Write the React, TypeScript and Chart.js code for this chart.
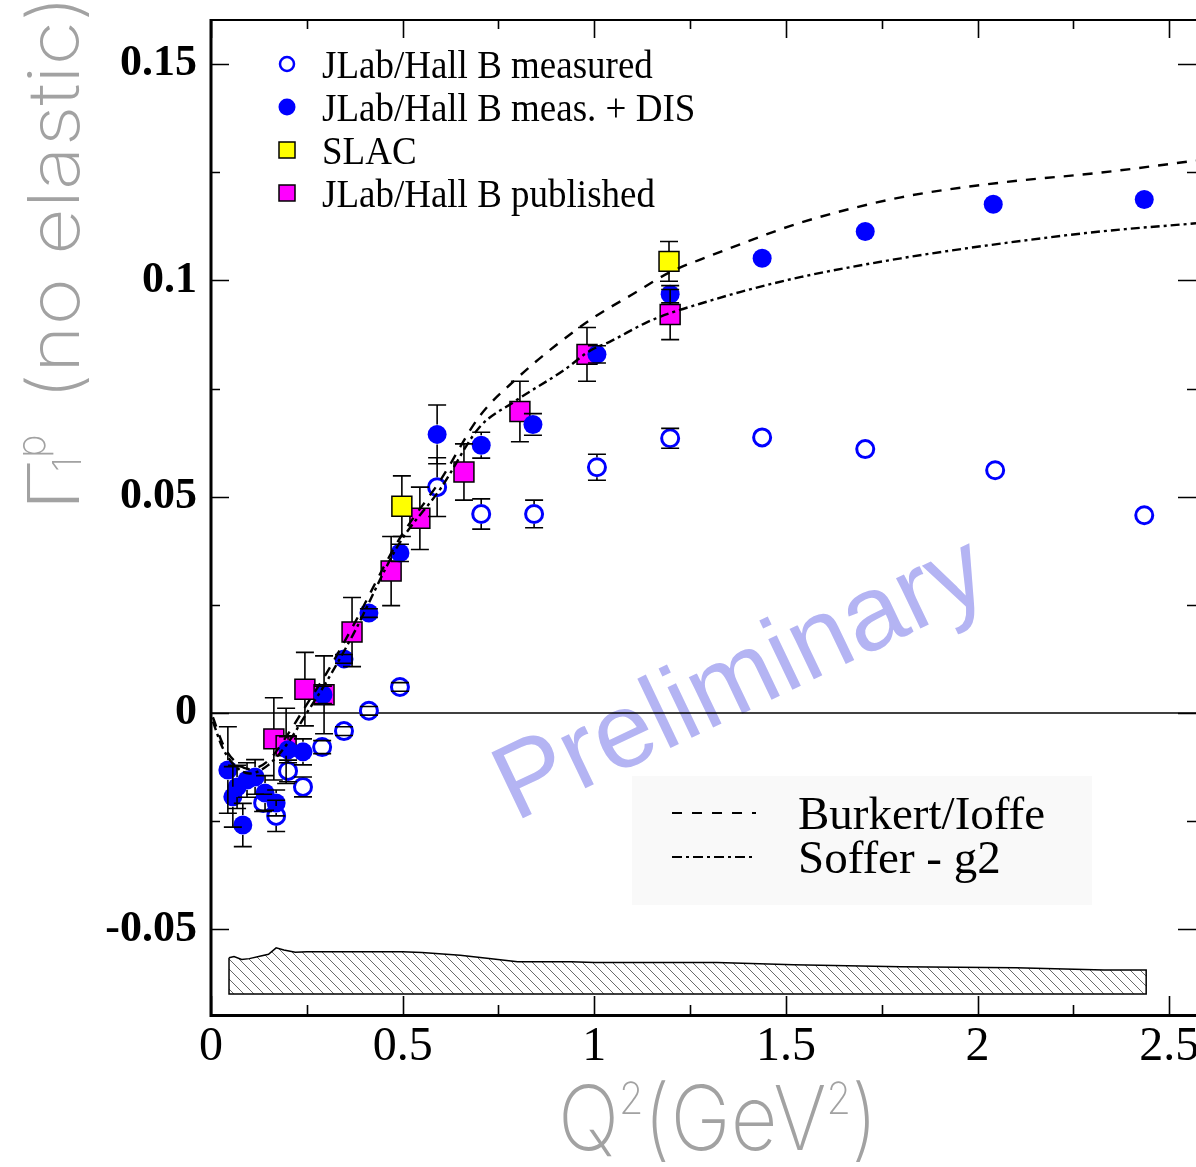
import React, { useEffect, useRef } from "react";
import { Chart, registerables } from "chart.js";

Chart.register(...registerables);

// ---------------- data ----------------
const measuredX = [0.136, 0.170, 0.201, 0.240, 0.290, 0.347, 0.412, 0.493, 0.590, 0.705, 0.843, 1.007, 1.198, 1.438, 1.707, 2.046, 2.435];
const measuredY = [-0.0208, -0.0238, -0.0134, -0.0171, -0.0079, -0.0042, 0.0005, 0.0060, 0.0522, 0.0460, 0.0460, 0.0568, 0.0635, 0.0637, 0.0610, 0.0561, 0.0457];
const measuredErr = [0.002, 0.0036, 0.0025, 0.0023, 0.0015, 0.001, 0.001, 0.001, 0.0068, 0.0035, 0.0032, 0.003, 0.0023, 0, 0, 0, 0];

const disX = [0.044, 0.057, 0.068, 0.083, 0.094, 0.115, 0.141, 0.170, 0.201, 0.240, 0.292, 0.347, 0.412, 0.493, 0.590, 0.705, 0.840, 1.007, 1.198, 1.438, 1.707, 2.041, 2.435];
const disY = [-0.0132, -0.0194, -0.0171, -0.0259, -0.0155, -0.0148, -0.0185, -0.0208, -0.0085, -0.0090, 0.0042, 0.0125, 0.0231, 0.0370, 0.0644, 0.0619, 0.0667, 0.0829, 0.0968, 0.1051, 0.1113, 0.1176, 0.1187];
const disErr = [0.010, 0.007, 0.005, 0.005, 0.004, 0.004, 0.004, 0.003, 0.003, 0.003, 0.002, 0.001, 0.001, 0.002, 0.0068, 0.003, 0.0025, 0.002, 0.002, 0, 0, 0, 0];

const slacX = [0.498, 1.195];
const slacY = [0.0478, 0.1044];
const slacErr = [0.007, 0.0046];

const publishedX = [0.164, 0.196, 0.245, 0.295, 0.368, 0.470, 0.545, 0.660, 0.806, 0.981, 1.198];
const publishedY = [-0.0060, -0.0076, 0.0055, 0.0042, 0.0187, 0.0328, 0.0450, 0.0557, 0.0697, 0.0829, 0.0921];
const publishedErr = [0.0095, 0.0087, 0.0085, 0.009, 0.008, 0.008, 0.0072, 0.0065, 0.007, 0.0062, 0.0058];

const burkertX = [0.005, 0.03, 0.06, 0.1, 0.15, 0.2, 0.25, 0.3, 0.37, 0.49, 0.6, 0.7, 0.8, 0.9, 1.0, 1.1, 1.2, 1.3, 1.4, 1.54, 1.8, 2.06, 2.32, 2.57];
const burkertY = [-0.001, -0.007, -0.011, -0.013, -0.011, -0.005, 0.002, 0.009, 0.020, 0.040, 0.054, 0.0685, 0.0775, 0.085, 0.0915, 0.0968, 0.1020, 0.1056, 0.1090, 0.1134, 0.1192, 0.1226, 0.1249, 0.1277];

const sofferX = [0.005, 0.03, 0.06, 0.1, 0.15, 0.2, 0.25, 0.3, 0.37, 0.49, 0.6, 0.7, 0.79, 0.92, 0.99, 1.04, 1.137, 1.2, 1.276, 1.38, 1.54, 1.8, 2.06, 2.32, 2.57];
const sofferY = [-0.002, -0.008, -0.012, -0.014, -0.012, -0.007, 0.000, 0.007, 0.018, 0.039, 0.052, 0.066, 0.0719, 0.0792, 0.0838, 0.0858, 0.0903, 0.0925, 0.0946, 0.0973, 0.1008, 0.1051, 0.1085, 0.1113, 0.1132];

const bandX = [0.047, 0.06, 0.08, 0.1, 0.13, 0.15, 0.17, 0.19, 0.22, 0.25, 0.5, 0.55, 0.65, 0.72, 0.8, 0.94, 1.0, 1.32, 1.52, 1.8, 2.1, 2.33, 2.44];
const bandTop = [-0.0566, -0.0563, -0.0570, -0.0568, -0.0562, -0.0558, -0.0543, -0.0548, -0.0553, -0.0552, -0.0552, -0.0554, -0.0560, -0.0567, -0.0575, -0.0575, -0.0577, -0.0577, -0.0582, -0.0587, -0.0589, -0.0594, -0.0594];
const bandBottom = -0.065;

const xTickValues = [0, 0.5, 1, 1.5, 2, 2.5];
const xTickLabels = ["0", "0.5", "1", "1.5", "2", "2.5"];
const xMinorTicks = [0.25, 0.75, 1.25, 1.75, 2.25];
const yTickValues = [-0.05, 0, 0.05, 0.1, 0.15];
const yTickLabels = ["-0.05", "0", "0.05", "0.1", "0.15"];
const yMinorTicks = [-0.025, 0.025, 0.075, 0.125];

const seriesLabels = ["JLab/Hall B measured", "JLab/Hall B meas. + DIS", "SLAC", "JLab/Hall B published"];
const curveLabels = ["Burkert/Ioffe", "Soffer - g2"];
const watermark = "Preliminary";

// ---------------- layout ----------------
const W = 1196;
const H = 1167;
const PLOT_LEFT = 211;
const PLOT_TOP = 20;
const PLOT_BOTTOM = 1014;
const X_MIN = 0;
const X_MAX = 2.57;
const Y_MIN = -0.0696;
const Y_MAX = 0.1602;

const BLUE = "#0000ff";
const MAGENTA = "#ff00ff";
const YELLOW = "#ffff00";
const TITLE_GRAY = "#a2a2a2";
const TITLE_FONT = "Inter, 'Lato Light', Lato, sans-serif";

const pts = (xs: number[], ys: number[]) => xs.map((x, i) => ({ x, y: ys[i] }));

function makeHatch(): CanvasPattern | string {
  const c = document.createElement("canvas");
  c.width = 10;
  c.height = 10;
  const g = c.getContext("2d");
  if (!g) return "#fff";
  g.fillStyle = "#fff";
  g.fillRect(0, 0, 10, 10);
  g.strokeStyle = "#6a6a6a";
  g.lineWidth = 1;
  g.beginPath();
  g.moveTo(-1, -1);
  g.lineTo(11, 11);
  g.moveTo(-1, 9);
  g.lineTo(1, 11);
  g.moveTo(9, -1);
  g.lineTo(11, 1);
  g.stroke();
  return g.createPattern(c, "repeat") || "#fff";
}

const MARKER_HALF = 10;

const errorBarPlugin = {
  id: "errorBars",
  afterDatasetDraw(chart: any, args: any) {
    if (chart.data.datasets[args.index]?.id !== "dis") return;
    const { ctx, scales } = chart;
    const xs = scales.x;
    const ys = scales.y;
    ctx.save();
    ctx.strokeStyle = "#000";
    ctx.lineWidth = 1.6;
    chart.data.datasets.forEach((ds: any) => {
      const errs: number[] | undefined = ds.errors;
      if (!errs) return;
      ds.data.forEach((p: any, i: number) => {
        const e = errs[i];
        if (!e) return;
        const px = xs.getPixelForValue(p.x);
        const pc = ys.getPixelForValue(p.y);
        const top = ys.getPixelForValue(p.y + e);
        const bot = ys.getPixelForValue(p.y - e);
        ctx.beginPath();
        if (pc - MARKER_HALF > top) {
          ctx.moveTo(px, top);
          ctx.lineTo(px, pc - MARKER_HALF);
        }
        if (pc + MARKER_HALF < bot) {
          ctx.moveTo(px, pc + MARKER_HALF);
          ctx.lineTo(px, bot);
        }
        ctx.moveTo(px - 9, top);
        ctx.lineTo(px + 9, top);
        ctx.moveTo(px - 9, bot);
        ctx.lineTo(px + 9, bot);
        ctx.stroke();
      });
    });
    ctx.restore();
  },
};

function drawXTitle(ctx: CanvasRenderingContext2D) {
  const big = `200 90px ${TITLE_FONT}`;
  const sup = `200 44px ${TITLE_FONT}`;
  const parts = [
    { t: "Q", f: big, dy: 0 },
    { t: "2", f: sup, dy: -36 },
    { t: "(", f: big, dy: 0 },
    { t: "GeV", f: big, dy: 0 },
    { t: "2", f: sup, dy: -36 },
    { t: ")", f: big, dy: 0 },
  ];
  let total = 0;
  const widths = parts.map((p) => {
    ctx.font = p.f;
    const w = ctx.measureText(p.t).width;
    total += w;
    return w;
  });
  const target = 320;
  const s = target / total;
  ctx.save();
  ctx.fillStyle = TITLE_GRAY;
  ctx.textBaseline = "alphabetic";
  ctx.textAlign = "left";
  ctx.translate(558, 1150);
  ctx.scale(s, 1);
  let x = 0;
  parts.forEach((p, i) => {
    ctx.font = p.f;
    ctx.fillText(p.t, x, p.dy);
    x += widths[i];
  });
  ctx.restore();
}

function drawYTitle(ctx: CanvasRenderingContext2D) {
  ctx.save();
  ctx.fillStyle = TITLE_GRAY;
  ctx.textBaseline = "alphabetic";
  ctx.textAlign = "left";
  ctx.translate(79, 512);
  ctx.rotate(-Math.PI / 2);
  ctx.font = `200 72px ${TITLE_FONT}`;
  const gw = ctx.measureText("Γ").width;
  ctx.save();
  ctx.scale(54 / gw, 1);
  ctx.fillText("Γ", 0, 0);
  ctx.restore();
  ctx.font = `200 40px ${TITLE_FONT}`;
  ctx.fillText("1", 40, 2);
  ctx.fillText("p", 54, -34);
  ctx.font = `200 72px ${TITLE_FONT}`;
  const t = "(no elastic)";
  const w = ctx.measureText(t).width;
  ctx.save();
  ctx.translate(112, 0);
  ctx.scale(405 / w, 1);
  ctx.fillText(t, 0, 0);
  ctx.restore();
  ctx.restore();
}

const overlayPlugin = {
  id: "overlay",
  beforeDatasetsDraw(chart: any) {
    const { ctx, chartArea: a, scales } = chart;
    ctx.save();
    // curve legend background
    ctx.fillStyle = "#f9f9f9";
    ctx.fillRect(632, 776, 460, 129);
    // watermark
    ctx.save();
    ctx.translate(515, 822);
    ctx.rotate((-25.5 * Math.PI) / 180);
    ctx.font = "106px 'Liberation Sans'";
    ctx.fillStyle = "rgb(180,180,243)";
    ctx.textBaseline = "alphabetic";
    ctx.fillText(watermark, 0, 0);
    ctx.restore();
    // zero line
    const y0 = scales.y.getPixelForValue(0);
    ctx.strokeStyle = "#000";
    ctx.lineWidth = 1.5;
    ctx.beginPath();
    ctx.moveTo(a.left, y0);
    ctx.lineTo(a.right, y0);
    ctx.stroke();
    ctx.restore();
  },
  afterDraw(chart: any) {
    const { ctx, chartArea: a, scales } = chart;
    const xs = scales.x;
    const ys = scales.y;
    ctx.save();
    ctx.strokeStyle = "#000";
    // frame
    ctx.lineWidth = 3;
    ctx.beginPath();
    ctx.moveTo(a.left, a.top - 1);
    ctx.lineTo(a.left, a.bottom + 1.5);
    ctx.lineTo(a.right, a.bottom + 1.5);
    ctx.stroke();
    ctx.lineWidth = 2;
    ctx.beginPath();
    ctx.moveTo(a.left, a.top);
    ctx.lineTo(a.right, a.top);
    ctx.stroke();
    // ticks
    ctx.lineWidth = 1.6;
    ctx.beginPath();
    const xt = (v: number, len: number) => {
      const p = Math.round(xs.getPixelForValue(v)) + 0.5;
      ctx.moveTo(p, a.bottom);
      ctx.lineTo(p, a.bottom - len);
      ctx.moveTo(p, a.top);
      ctx.lineTo(p, a.top + len);
    };
    const yt = (v: number, len: number) => {
      const p = Math.round(ys.getPixelForValue(v)) + 0.5;
      ctx.moveTo(a.left, p);
      ctx.lineTo(a.left + len, p);
      ctx.moveTo(a.right, p);
      ctx.lineTo(a.right - len, p);
    };
    xTickValues.forEach((v) => xt(v, 18));
    xMinorTicks.forEach((v) => xt(v, 9));
    yTickValues.forEach((v) => yt(v, 18));
    yMinorTicks.forEach((v) => yt(v, 9));
    ctx.stroke();

    // titles
    drawXTitle(ctx);
    drawYTitle(ctx);

    // series legend
    const lx = 287;
    const rows = [64, 107, 150, 193];
    ctx.fillStyle = "#000";
    ctx.textBaseline = "alphabetic";
    ctx.textAlign = "left";
    seriesLabels.forEach((lab, i) => {
      const y = rows[i];
      ctx.save();
      if (i === 0) {
        ctx.beginPath();
        ctx.arc(lx, y, 7, 0, Math.PI * 2);
        ctx.fillStyle = "#fff";
        ctx.fill();
        ctx.strokeStyle = BLUE;
        ctx.lineWidth = 2.5;
        ctx.stroke();
      } else if (i === 1) {
        ctx.beginPath();
        ctx.arc(lx, y, 8.5, 0, Math.PI * 2);
        ctx.fillStyle = BLUE;
        ctx.fill();
      } else {
        ctx.fillStyle = i === 2 ? YELLOW : MAGENTA;
        ctx.fillRect(lx - 8, y - 8, 16, 16);
        ctx.strokeStyle = "#000";
        ctx.lineWidth = 1.5;
        ctx.strokeRect(lx - 8, y - 8, 16, 16);
      }
      ctx.restore();
      ctx.save();
      ctx.translate(322, y + 14);
      ctx.scale(1, 1.1);
      ctx.font = "37px 'Liberation Serif'";
      ctx.fillText(lab, 0, 0);
      ctx.restore();
    });

    // curve legend
    ctx.lineWidth = 2;
    ctx.strokeStyle = "#000";
    ctx.setLineDash([10, 10]);
    ctx.beginPath();
    ctx.moveTo(672, 813);
    ctx.lineTo(756, 813);
    ctx.stroke();
    ctx.setLineDash([10, 4, 3, 4]);
    ctx.beginPath();
    ctx.moveTo(672, 857);
    ctx.lineTo(756, 857);
    ctx.stroke();
    ctx.setLineDash([]);
    ctx.font = "47px 'Liberation Serif'";
    ctx.fillText(curveLabels[0], 798, 829);
    ctx.fillText(curveLabels[1], 798, 873);
    ctx.restore();
  },
};

export default function App() {
  const canvasRef = useRef<HTMLCanvasElement | null>(null);

  useEffect(() => {
    const canvas = canvasRef.current;
    if (!canvas) return;
    const hatch = makeHatch();
    const bandPolygon = [
      ...pts(bandX, bandTop),
      { x: bandX[bandX.length - 1], y: bandBottom },
      { x: bandX[0], y: bandBottom },
      { x: bandX[0], y: bandTop[0] },
    ];

    const chart = new Chart(canvas, {
      type: "line",
      data: {
        datasets: [
          {
            id: "band",
            label: "systematic",
            data: bandPolygon,
            fill: "shape",
            backgroundColor: hatch,
            borderColor: "#000",
            borderWidth: 1.5,
            pointRadius: 0,
            tension: 0,
            order: 20,
          },
          {
            id: "published",
            label: seriesLabels[3],
            data: pts(publishedX, publishedY),
            errors: publishedErr,
            showLine: false,
            pointStyle: "rect",
            pointRadius: 14.1,
            backgroundColor: MAGENTA,
            borderColor: "#000",
            borderWidth: 1.5,
            order: 9,
          },
          {
            id: "slac",
            label: seriesLabels[2],
            data: pts(slacX, slacY),
            errors: slacErr,
            showLine: false,
            pointStyle: "rect",
            pointRadius: 14.1,
            backgroundColor: YELLOW,
            borderColor: "#000",
            borderWidth: 1.5,
            order: 8,
          },
          {
            id: "measured",
            label: seriesLabels[0],
            data: pts(measuredX, measuredY),
            errors: measuredErr,
            showLine: false,
            pointStyle: "circle",
            pointRadius: 8.5,
            backgroundColor: "#fff",
            borderColor: BLUE,
            borderWidth: 3,
            order: 7,
          },
          {
            id: "dis",
            label: seriesLabels[1],
            data: pts(disX, disY),
            errors: disErr,
            showLine: false,
            pointStyle: "circle",
            pointRadius: 9.5,
            backgroundColor: BLUE,
            borderColor: BLUE,
            borderWidth: 0,
            order: 6,
          },
          {
            id: "burkert",
            label: curveLabels[0],
            data: pts(burkertX, burkertY),
            borderColor: "#000",
            borderWidth: 2.4,
            borderDash: [10, 9],
            pointRadius: 0,
            cubicInterpolationMode: "monotone",
            fill: false,
            order: 2,
          },
          {
            id: "soffer",
            label: curveLabels[1],
            data: pts(sofferX, sofferY),
            borderColor: "#000",
            borderWidth: 2.4,
            borderDash: [9, 4, 3, 4],
            pointRadius: 0,
            cubicInterpolationMode: "monotone",
            fill: false,
            order: 1,
          },
        ] as any,
      },
      options: {
        animation: false,
        responsive: false,
        devicePixelRatio: 1,
        events: [],
        layout: { autoPadding: false, padding: { top: PLOT_TOP, left: 0, right: 0, bottom: 0 } },
        plugins: {
          legend: { display: false },
          tooltip: { enabled: false },
          title: { display: false },
        },
        scales: {
          x: {
            type: "linear",
            min: X_MIN,
            max: X_MAX,
            grid: { display: false, drawTicks: false },
            border: { display: false },
            afterBuildTicks: (s: any) => {
              s.ticks = xTickValues.map((v) => ({ value: v }));
            },
            afterFit: (s: any) => {
              s.height = H - PLOT_BOTTOM;
              s.paddingLeft = 0;
              s.paddingRight = 0;
            },
            ticks: {
              autoSkip: false,
              maxRotation: 0,
              minRotation: 0,
              padding: 5,
              color: "#000",
              font: { family: "'Liberation Serif'", size: 48 },
              callback: (v: any) => xTickLabels[xTickValues.indexOf(Number(v))] ?? "",
            },
          },
          y: {
            type: "linear",
            min: Y_MIN,
            max: Y_MAX,
            grid: { display: false, drawTicks: false },
            border: { display: false },
            afterBuildTicks: (s: any) => {
              s.ticks = yTickValues.map((v) => ({ value: v }));
            },
            afterFit: (s: any) => {
              s.width = PLOT_LEFT;
              s.paddingTop = 0;
              s.paddingBottom = 0;
            },
            ticks: {
              autoSkip: false,
              padding: 14,
              color: "#000",
              font: { family: "'Liberation Serif'", size: 44, weight: "bold" },
              callback: (v: any) => yTickLabels[yTickValues.indexOf(Number(v))] ?? "",
            },
          },
        },
      } as any,
      plugins: [overlayPlugin, errorBarPlugin],
    });

    return () => chart.destroy();
  }, []);

  return (
    <div style={{ position: "absolute", left: 0, top: 0, width: W, height: H, background: "#fff" }}>
      <canvas ref={canvasRef} width={W} height={H} style={{ display: "block", width: W, height: H }} />
    </div>
  );
}
